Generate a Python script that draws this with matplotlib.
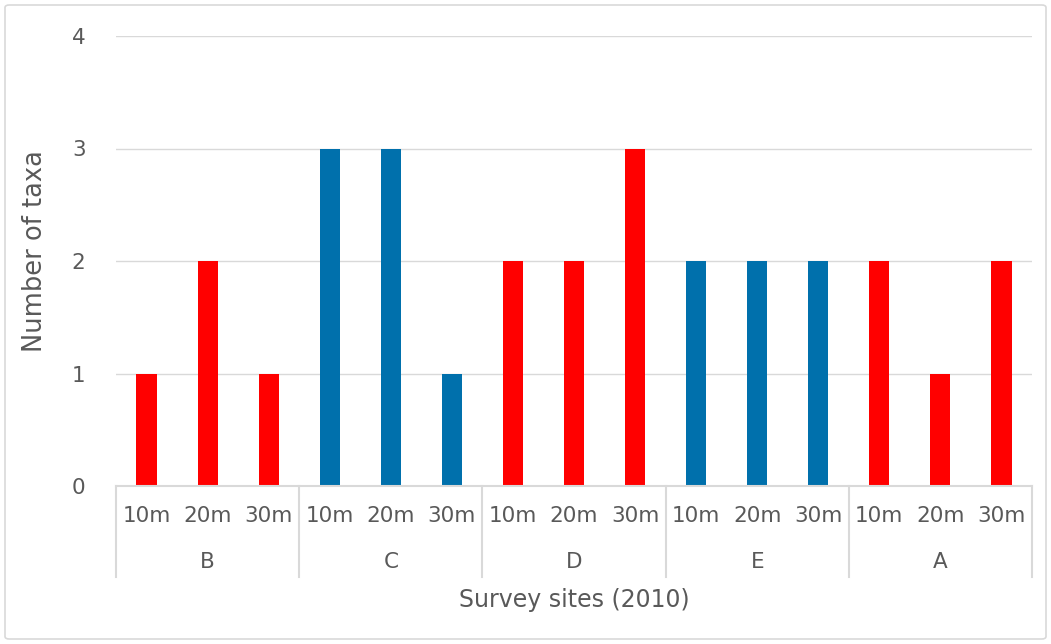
import matplotlib
matplotlib.use("Agg")
import matplotlib.pyplot as plt
from matplotlib.patches import FancyBboxPatch

sites = ["B", "C", "D", "E", "A"]
depths = ["10m", "20m", "30m"]
values = {
    "B": [1, 2, 1],
    "C": [3, 3, 1],
    "D": [2, 2, 3],
    "E": [2, 2, 2],
    "A": [2, 1, 2],
}
site_colors = ["#FF0000", "#0070AC", "#FF0000", "#0070AC", "#FF0000"]
yticks = [0, 1, 2, 3, 4]
xlabel = "Survey sites (2010)"
ylabel = "Number of taxa"

plt.rcParams['font.family'] = ['DejaVu Sans']
text_color = "#595959"
grid_color = "#D9D9D9"

W, H = 1051, 644
fig = plt.figure(figsize=(W / 100, H / 100), dpi=100)
L, R, B, T = 116, 1032, 486, 36
ax = fig.add_axes([L / W, (H - B) / H, (R - L) / W, (B - T) / H])
ax_h = B - T

# figure border
fig.patches.append(FancyBboxPatch((5 / W, 5 / H), (W - 10) / W, (H - 10) / H,
                                  boxstyle="round,pad=0,rounding_size=0.004",
                                  transform=fig.transFigure, fill=False,
                                  edgecolor="#D9D9D9", linewidth=1.2))

n = len(depths)
for gi, s in enumerate(sites):
    xs = [gi * n + j for j in range(n)]
    ax.bar(xs, values[s], width=0.33, color=site_colors[gi], zorder=3)
    for j, d in enumerate(depths):
        ax.text(gi * n + j, -30 / ax_h, d, transform=ax.get_xaxis_transform(),
                ha="center", va="center", fontsize=15.5, color=text_color)
    ax.text(gi * n + (n - 1) / 2, -76 / ax_h, s, transform=ax.get_xaxis_transform(),
            ha="center", va="center", fontsize=15.5, color=text_color)

for k in range(len(sites) + 1):
    xb = k * n - 0.5
    ax.plot([xb, xb], [0, -91 / ax_h], transform=ax.get_xaxis_transform(),
            color=grid_color, linewidth=1.5, clip_on=False)

ax.set_xlim(-0.5, len(sites) * n - 0.5)
ax.set_ylim(0, 4)
ax.set_yticks(yticks)
ax.set_yticklabels([str(v) for v in yticks])
ax.set_xticks([])
ax.tick_params(axis='y', length=0, pad=22, labelsize=15.5, labelcolor=text_color)
ax.grid(axis='y', color=grid_color, linewidth=1, zorder=0)
for sp in ["top", "right", "left"]:
    ax.spines[sp].set_visible(False)
ax.spines["bottom"].set_color(grid_color)
ax.spines["bottom"].set_linewidth(1.5)
ax.spines["bottom"].set_zorder(4)

ax.text(0.5, -114 / ax_h, xlabel, transform=ax.transAxes, ha="center", va="center",
        fontsize=17, color=text_color)
fig.text(35 / W, (H - 251) / H, ylabel, rotation=90, ha="center", va="center",
         fontsize=18.5, color=text_color)

fig.savefig("out.png", dpi=100)
